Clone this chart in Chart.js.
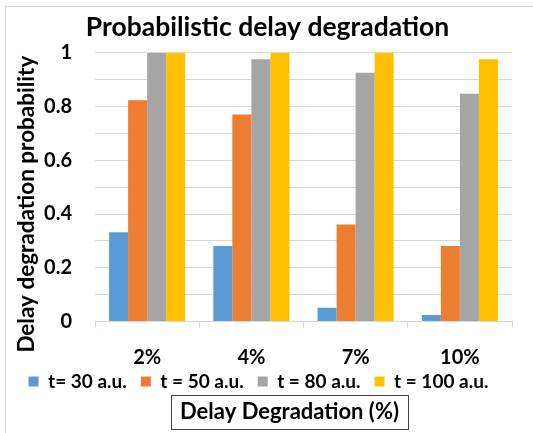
<!DOCTYPE html>
<html>
<head>
<meta charset="utf-8">
<script src="https://cdn.jsdelivr.net/npm/chart.js@4.4.1/dist/chart.umd.min.js"></script>
<style>
  html, body { margin: 0; padding: 0; background: #ffffff; }
  #wrap { width: 533px; height: 433px; }
</style>
</head>
<body>
<div id="wrap"><canvas id="chart" width="533" height="433"></canvas></div>
<script>
// Delay degradation levels on the x axis
const categories = ['2%', '4%', '7%', '10%'];

// Probability of delay degradation for each aging time
const seriesNames = ['t= 30 a.u.', 't = 50 a.u.', 't = 80 a.u.', 't = 100 a.u.'];
const t30 = [0.332, 0.281, 0.051, 0.024];
const t50 = [0.823, 0.770, 0.361, 0.281];
const t80 = [1.0, 0.976, 0.926, 0.848];
const t100 = [1.0, 1.0, 1.0, 0.976];

// Labelled y ticks (gridlines are drawn every 0.1)
const yTickLabels = ['0', '0.2', '0.4', '0.6', '0.8', '1'];

const colors = ['#5b9bd5', '#ed7d31', '#a5a5a5', '#ffc000'];
const FONT = 'Lato, "Open Sans", sans-serif';
const CAPTION = 'Delay Degradation (%)';

// Nudges the headings sideways, moves the y-axis caption along its axis
// and lets the category labels spill below the x-axis box
const layoutTweaks = {
  id: 'layoutTweaks',
  afterLayout(chart) {
    if (chart.titleBlock) {
      chart.titleBlock.left += 9;
      chart.titleBlock.right += 9;
    }
    const cap = chart.boxes.find(b => b.options && b.options.text === CAPTION);
    if (cap) {
      cap.left += 31;
      cap.right += 31;
    }
    const y = chart.scales.y;
    if (y && !y._tweaked) {
      const orig = y.drawTitle;
      y.drawTitle = function () {
        this.ctx.save();
        this.ctx.translate(0, 17);
        orig.call(this);
        this.ctx.restore();
      };
      y._tweaked = true;
    }
    const x = chart.scales.x;
    if (x) {
      x._computeLabelArea = () => undefined;
    }
  }
};

// Draws a thin frame around the bottom axis caption and the outer chart frame
const captionFrame = {
  id: 'captionFrame',
  afterDraw(chart) {
    const ctx = chart.ctx;
    const box = chart.boxes.find(b => b.options && b.options.text === CAPTION);
    if (box) {
      const f = box.options.font;
      ctx.save();
      ctx.font = 'bold ' + f.size + 'px ' + f.family;
      const w = ctx.measureText(box.options.text).width;
      const cx = (box.left + box.right) / 2;
      const cy = box.top + box.options.padding.top + f.size * f.lineHeight / 2;
      const x0 = Math.round(cx - w / 2 - 9) + 0.5;
      const x1 = Math.round(cx + w / 2 + 9) + 0.5;
      const y0 = Math.round(cy - 17) + 0.5;
      const y1 = Math.round(cy + 17) + 0.5;
      ctx.strokeStyle = '#404040';
      ctx.lineWidth = 1;
      ctx.strokeRect(x0, y0, x1 - x0, y1 - y0);
      ctx.restore();
    }
    ctx.save();
    ctx.strokeStyle = '#d9d9d9';
    ctx.lineWidth = 1;
    ctx.strokeRect(5.5, 6.5, 540, 440);
    ctx.restore();
  }
};

const whiteBg = {
  id: 'whiteBg',
  beforeDraw(chart) {
    const ctx = chart.ctx;
    ctx.save();
    ctx.fillStyle = '#ffffff';
    ctx.fillRect(0, 0, chart.width, chart.height);
    ctx.restore();
  }
};

new Chart(document.getElementById('chart'), {
  type: 'bar',
  data: {
    labels: categories,
    datasets: [t30, t50, t80, t100].map((d, i) => ({
      label: seriesNames[i],
      data: d,
      backgroundColor: colors[i],
      borderWidth: 0,
      categoryPercentage: 0.73,
      barPercentage: 1.0
    }))
  },
  options: {
    responsive: false,
    devicePixelRatio: 1,
    animation: false,
    layout: { padding: { left: 5, right: 21, top: 0, bottom: 0 } },
    plugins: {
      title: {
        display: true,
        text: 'Probabilistic delay degradation',
        color: '#000000',
        font: { family: FONT, size: 26.5, weight: 'bold', lineHeight: 1.2 },
        padding: { top: 12, bottom: 9 }
      },
      subtitle: {
        display: true,
        position: 'bottom',
        text: CAPTION,
        color: '#000000',
        font: { family: FONT, size: 22, weight: 'bold', lineHeight: 1 },
        padding: { top: 0, bottom: 10 }
      },
      legend: {
        position: 'bottom',
        labels: {
          color: '#000000',
          font: { family: FONT, size: 19, weight: 'bold' },
          boxWidth: 10,
          boxHeight: 10,
          padding: 14
        }
      },
      tooltip: { enabled: false }
    },
    scales: {
      x: {
        afterFit: (s) => { s.height = 36.5; },
        grid: {
          offset: true,
          drawOnChartArea: false,
          drawTicks: true,
          tickLength: 6,
          color: '#d9d9d9'
        },
        border: { display: true, color: '#d9d9d9' },
        ticks: {
          color: '#000000',
          font: { family: FONT, size: 20, weight: 'bold', lineHeight: 1.2 },
          padding: 18.5
        }
      },
      y: {
        min: 0,
        max: 1,
        afterFit: (s) => { s.width = 90; },
        grid: { color: '#d9d9d9', drawTicks: false },
        border: { display: false },
        ticks: {
          stepSize: 0.1,
          color: '#000000',
          font: { family: FONT, size: 20, weight: 'bold' },
          padding: 23,
          autoSkip: false,
          callback: (v) => {
            const k = Math.round(v * 10);
            return k % 2 === 0 ? yTickLabels[k / 2] : '';
          }
        },
        title: {
          display: true,
          text: 'Delay degradation probability',
          color: '#000000',
          font: { family: FONT, size: 22.5, weight: 'bold', lineHeight: 1.2 },
          padding: { top: 8, bottom: 4 }
        }
      }
    }
  },
  plugins: [whiteBg, layoutTweaks, captionFrame]
});
</script>
</body>
</html>
